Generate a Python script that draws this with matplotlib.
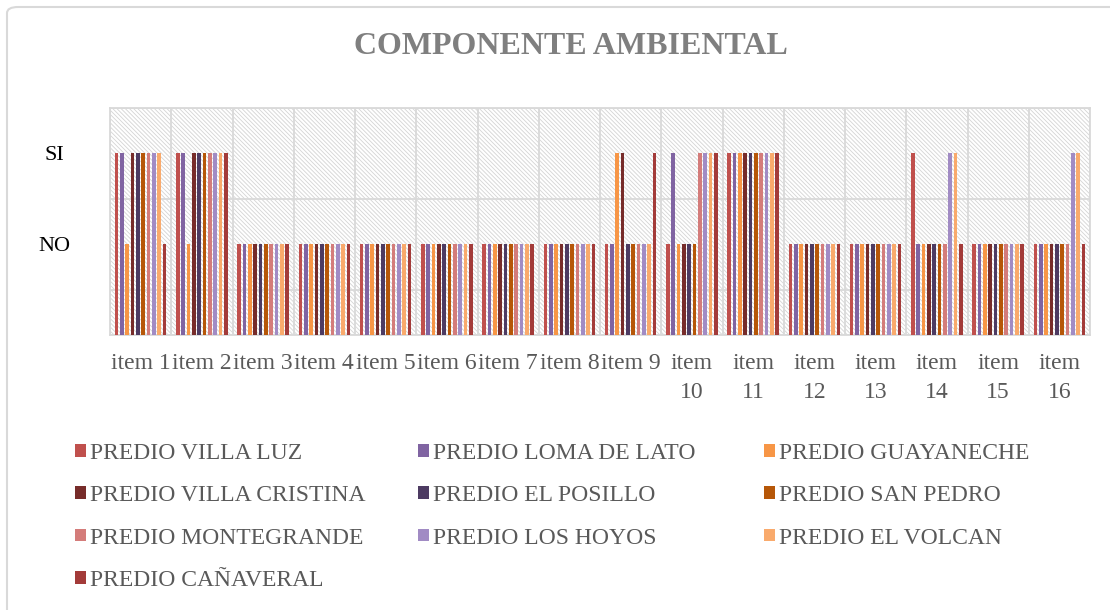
import numpy as np
import matplotlib
matplotlib.use("Agg")
from matplotlib import pyplot as plt
from matplotlib.patches import Rectangle, FancyBboxPatch

plt.rcParams['font.family'] = ['Liberation Serif', 'DejaVu Serif']
plt.rcParams['hatch.linewidth'] = 0.6

# categories and series (1 = NO, 2 = SI)
items = ["item 1", "item 2", "item 3", "item 4", "item 5", "item 6", "item 7", "item 8",
         "item 9", "item\n10", "item\n11", "item\n12", "item\n13", "item\n14", "item\n15", "item\n16"]

predios = ["PREDIO VILLA LUZ", "PREDIO LOMA DE LATO", "PREDIO GUAYANECHE",
           "PREDIO VILLA CRISTINA", "PREDIO EL POSILLO", "PREDIO SAN PEDRO",
           "PREDIO MONTEGRANDE", "PREDIO LOS HOYOS", "PREDIO EL VOLCAN",
           "PREDIO CAÑAVERAL"]

colores = ["#C0504D", "#8064A2", "#F79646", "#772C2A", "#4D3B62", "#B65708",
           "#D47C7A", "#A18BC4", "#F9AA6C", "#A33B39"]

# one row per item, one column per predio
valores = np.array([
    [2, 2, 1, 2, 2, 2, 2, 2, 2, 1],
    [2, 2, 1, 2, 2, 2, 2, 2, 2, 2],
    [1, 1, 1, 1, 1, 1, 1, 1, 1, 1],
    [1, 1, 1, 1, 1, 1, 1, 1, 1, 1],
    [1, 1, 1, 1, 1, 1, 1, 1, 1, 1],
    [1, 1, 1, 1, 1, 1, 1, 1, 1, 1],
    [1, 1, 1, 1, 1, 1, 1, 1, 1, 1],
    [1, 1, 1, 1, 1, 1, 1, 1, 1, 1],
    [1, 1, 2, 2, 1, 1, 1, 1, 1, 2],
    [1, 2, 1, 1, 1, 1, 2, 2, 2, 2],
    [2, 2, 2, 2, 2, 2, 2, 2, 2, 2],
    [1, 1, 1, 1, 1, 1, 1, 1, 1, 1],
    [1, 1, 1, 1, 1, 1, 1, 1, 1, 1],
    [2, 1, 1, 1, 1, 1, 1, 2, 2, 1],
    [1, 1, 1, 1, 1, 1, 1, 1, 1, 1],
    [1, 1, 1, 1, 1, 1, 1, 2, 2, 1],
])

y_ticks = [1, 2]
y_labels = ["NO", "SI"]

fig = plt.figure(figsize=(11.1, 6.1), dpi=100)
W, H = 1110, 610

# outer chart border (only top/left visible in the original crop)
fig.patches.append(FancyBboxPatch((7 / W, -0.1), 1.2, 0.1 + (H - 7) / H,
                                  boxstyle="round,pad=0,rounding_size=0.01",
                                  transform=fig.transFigure, facecolor="white",
                                  edgecolor="#D9D9D9", linewidth=1.5, zorder=-5))

ax = fig.add_axes([110 / W, (H - 335) / H, 980 / W, 227 / H])
ax.set_facecolor("none")

# hatched plot area
ax.add_patch(Rectangle((0, 0), 1, 1, transform=ax.transAxes, facecolor="white",
                       edgecolor="#D4D4D4", hatch="\\" * 8, linewidth=0, zorder=0))

n_items = len(items)
n_ser = len(predios)
x = np.arange(n_items)
slot = 0.087
bw = slot * 0.68
bars = []
for j in range(n_ser):
    off = (j - (n_ser - 1) / 2) * slot
    bars.append(ax.bar(x + off, valores[:, j], width=bw, color=colores[j],
                       label=predios[j], zorder=3))

ax.set_xlim(-0.5, n_items - 0.5)
ax.set_ylim(0, 2.5)

ax.set_xticks(x)
ax.set_xticklabels(items, fontsize=17, color="#595959", linespacing=1.5)
ax.set_xticks(np.arange(-0.5, n_items, 1), minor=True)
ax.set_yticks(y_ticks)
ax.set_yticklabels(y_labels, fontsize=16, color="black", ha="center")
ax.set_yticks(np.arange(0, 2.51, 0.5), minor=True)
ax.tick_params(axis="both", which="both", length=0)
ax.tick_params(axis="x", pad=13)
ax.tick_params(axis="y", pad=40)

ax.grid(which="minor", color="#D9D9D9", linewidth=1.3, zorder=1)
ax.grid(which="major", visible=False)
for s in ax.spines.values():
    s.set_color("#D9D9D9")
    s.set_linewidth(1.3)

fig.text(571 / W, 1 - 47 / H, "COMPONENTE AMBIENTAL", fontsize=23, fontweight="bold",
         color="#7F7F7F", ha="center", va="center")

# legend: three columns, filled row by row
col_x = [75, 418, 764]
for c in range(3):
    idx = list(range(c, n_ser, 3))
    leg = fig.legend([bars[i] for i in idx], [predios[i] for i in idx],
                     loc="upper left", bbox_to_anchor=(col_x[c] / W, 1 - 443 / H),
                     frameon=False, fontsize=17, labelcolor="#595959",
                     handlelength=0.45, handleheight=0.45, handletextpad=0.2,
                     labelspacing=0.9, borderpad=0, borderaxespad=0)

fig.savefig("out.png", dpi=100)
